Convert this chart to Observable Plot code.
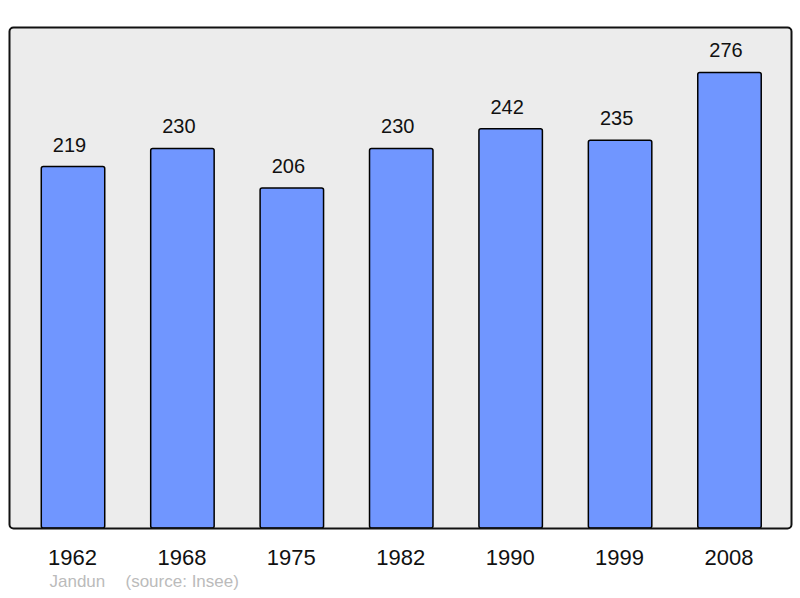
<!DOCTYPE html>
<html>
<head>
<meta charset="utf-8">
<script src="https://cdn.jsdelivr.net/npm/d3@7"></script>
<script src="https://cdn.jsdelivr.net/npm/@observablehq/plot@0.6"></script>
<style>
  html, body { margin: 0; padding: 0; background: #fff; }
  svg { display: block; }
</style>
</head>
<body>
<div id="chart"></div>
<script>
const years = ["1962", "1968", "1975", "1982", "1990", "1999", "2008"];
const population = [219, 230, 206, 230, 242, 235, 276];
const commune = "Jandun";
const source = "(source: Insee)";

const data = years.map((y, i) => ({year: y, pop: population[i]}));
const font = "Liberation Sans, Arial, sans-serif";

const chart = Plot.plot({
  width: 800,
  height: 598,
  marginTop: 27,
  marginBottom: 70,
  marginLeft: 9,
  marginRight: 9,
  style: {fontFamily: font, background: "#fff", overflow: "visible"},
  x: {domain: years, paddingInner: 0.42, paddingOuter: 0.21, insetLeft: 9.3, insetRight: 6.8, round: false, label: null},
  y: {domain: [0, d3.max(population) * 1.1], axis: null},
  marks: [
    Plot.frame({fill: "#ececec", stroke: "none", rx: 4}),
    Plot.barY(data, {x: "year", y: "pop", fill: "#7096ff", stroke: "#000", strokeWidth: 1.5, rx: 2}),
    Plot.text(data, {x: "year", y: "pop", text: d => String(d.pop), dy: -22, dx: -4, fontSize: 20, fill: "#111"}),
    Plot.frame({fill: "none", stroke: "#111", strokeWidth: 2, rx: 4}),
    Plot.axisX({tickSize: 0, tickPadding: 21, fontSize: 22, dx: -1, fill: "#111", label: null}),
    Plot.text([commune], {frameAnchor: "bottom-left", dx: 40, dy: 58, fontSize: 17, fill: "#bbbbbb", textAnchor: "start"}),
    Plot.text([source], {frameAnchor: "bottom-left", dx: 116, dy: 58, fontSize: 17, fill: "#bbbbbb", textAnchor: "start"})
  ]
});
document.getElementById("chart").appendChild(chart);
</script>
</body>
</html>
